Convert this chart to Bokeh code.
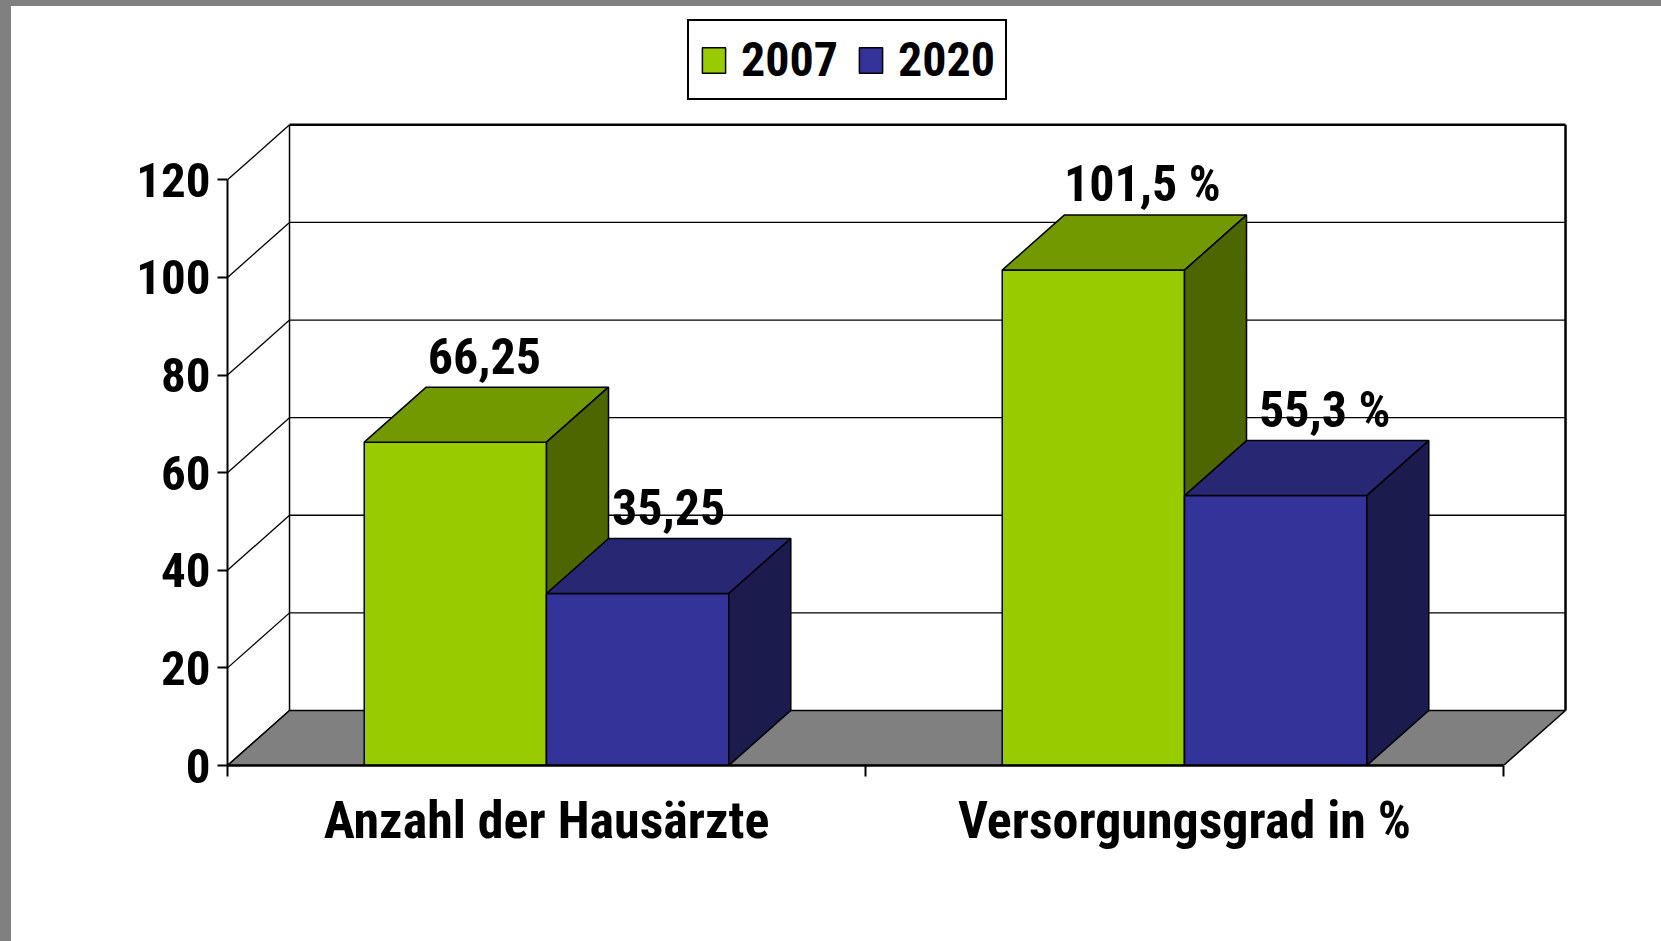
from bokeh.plotting import figure
from bokeh.models import (Range1d, FixedTicker, LinearAxis, Legend, LegendItem,
                          ColumnDataSource)
from bokeh.layouts import column
from bokeh.embed import file_html
from bokeh.resources import INLINE
from bokeh.core.properties import value

# ---------------- data ----------------
categories = ["Anzahl der Hausärzte", "Versorgungsgrad in %"]
series = ["2007", "2020"]
values_2007 = [66.25, 101.5]
values_2020 = [35.25, 55.3]
labels_2007 = ["66,25", "101,5 %"]
labels_2020 = ["35,25", "55,3 %"]
y_ticks = [0, 20, 40, 60, 80, 100, 120]

# ---------------- styles ----------------
FONT = "'Roboto Condensed', 'Liberation Sans'"
GREEN = ["#99CC00", "#739900", "#4D6600"]   # front, top, side
BLUE = ["#333399", "#272773", "#1B1B4D"]
FLOOR = "#808080"
BAR_W = 0.2857          # width of a bar in category units
DX = 0.0972             # depth offset (x, category units)
DY = 11.27              # depth offset (y, value units)
Y_MAX = 120
label_dx_2007 = [-2, 18]
label_dx_2020 = [0, 18]

W, H = 1650, 935
LEFT, BOTTOM = 216, 176
PX_X = 638.0
PX_Y = 4.8808

p = figure(width=W, height=H, output_backend="svg", toolbar_location=None,
           x_range=Range1d(0, (W - LEFT) / PX_X), y_range=Range1d(0, (H - BOTTOM) / PX_Y),
           min_border_left=LEFT, min_border_right=0, min_border_top=0,
           min_border_bottom=BOTTOM, x_axis_location=None, y_axis_location=None,
           background_fill_color="white", border_fill_color="white")
p.outline_line_color = None
p.grid.visible = False
p.margin = (6, 0, 0, 11)
p.styles = {"background-color": "white"}

n = len(categories)
centers = [i + 0.5 for i in range(n)]

# ---------------- walls ----------------
p.segment(x0=[0] * len(y_ticks), y0=y_ticks, x1=[DX] * len(y_ticks),
          y1=[t + DY for t in y_ticks], line_color="black", line_width=1.3)
inner = [t for t in y_ticks if 0 < t < Y_MAX]
p.segment(x0=[DX] * len(inner), y0=[t + DY for t in inner], x1=[n + DX] * len(inner),
          y1=[t + DY for t in inner], line_color="black", line_width=1.3)
p.segment(x0=[DX, n + DX], y0=[DY, DY], x1=[DX, n + DX], y1=[Y_MAX + DY, Y_MAX + DY],
          line_color="black", line_width=[1.5, 2.5])
p.segment(x0=[DX], y0=[Y_MAX + DY], x1=[n + DX], y1=[Y_MAX + DY],
          line_color="black", line_width=2.5)
p.patch(x=[0, n, n + DX, DX], y=[0, 0, DY, DY], fill_color=FLOOR,
        line_color="black", line_width=1.5)

# ---------------- bars ----------------
def draw_bars(lefts, vals, cols):
    rights = [l + BAR_W for l in lefts]
    front = p.quad(left=lefts, right=rights, bottom=[0] * len(vals), top=vals,
                   fill_color=cols[0], line_color="black", line_width=1.5)
    p.patches(xs=[[l, r, r + DX, l + DX] for l, r in zip(lefts, rights)],
              ys=[[v, v, v + DY, v + DY] for v in vals],
              fill_color=cols[1], line_color="black", line_width=1.5)
    p.patches(xs=[[r, r + DX, r + DX, r] for r in rights],
              ys=[[0, DY, v + DY, v] for v in vals],
              fill_color=cols[2], line_color="black", line_width=1.5)
    return front

r07 = draw_bars([c - BAR_W for c in centers], values_2007, GREEN)
r20 = draw_bars(centers, values_2020, BLUE)

# ---------------- value labels ----------------
def draw_labels(xc, vals, texts, dxs):
    src = ColumnDataSource(dict(x=[x + DX / 2 for x in xc], y=[v + DY for v in vals],
                                t=texts, dx=dxs))
    p.text(x="x", y="y", text="t", x_offset="dx", y_offset=-31, source=src,
           text_font=value(FONT), text_font_style="bold", text_font_size="50px",
           text_align="center", text_baseline="alphabetic", text_color="black")

draw_labels([c - BAR_W / 2 for c in centers], values_2007, labels_2007, label_dx_2007)
draw_labels([c + BAR_W / 2 for c in centers], values_2020, labels_2020, label_dx_2020)

# ---------------- axes ----------------
yax = LinearAxis(ticker=FixedTicker(ticks=y_ticks, minor_ticks=[]), bounds=(0, Y_MAX))
yax.axis_line_width = 2
yax.major_tick_out = 10
yax.major_tick_in = 0
yax.major_tick_line_width = 2
yax.minor_tick_out = 0
yax.minor_tick_in = 0
yax.major_label_standoff = 7
yax.major_label_text_font = FONT
yax.major_label_text_font_style = "bold"
yax.major_label_text_font_size = "49px"
yax.major_label_text_color = "black"
p.add_layout(yax, "left")

xax = LinearAxis(ticker=FixedTicker(ticks=centers, minor_ticks=list(range(n + 1))),
                 bounds=(0, n))
xax.axis_line_width = 2.5
xax.major_tick_out = 0
xax.major_tick_in = 0
xax.minor_tick_out = 11
xax.minor_tick_in = 0
xax.minor_tick_line_width = 2
xax.major_label_overrides = {c: lab for c, lab in zip(centers, categories)}
xax.major_label_standoff = 13
xax.major_label_text_font = FONT
xax.major_label_text_font_style = "bold"
xax.major_label_text_font_size = "52px"
xax.major_label_text_color = "black"
p.add_layout(xax, "below")

# ---------------- legend ----------------
legend = Legend(items=[LegendItem(label=series[0], renderers=[r07]),
                       LegendItem(label=series[1], renderers=[r20])],
                location=(460, 665), orientation="horizontal")
legend.label_text_font = FONT
legend.label_text_font_style = "bold"
legend.label_text_font_size = "48px"
legend.label_text_color = "black"
legend.glyph_width = 29
legend.glyph_height = 32
legend.label_standoff = 13
legend.spacing = 18
legend.padding = 10
legend.margin = 0
legend.border_line_color = "black"
legend.border_line_alpha = 1
legend.border_line_width = 2
legend.background_fill_color = "white"
legend.background_fill_alpha = 1
p.add_layout(legend, "center")

root = column(p, styles={"background-color": "#808080"})
open("out.html", "w").write(file_html(root, INLINE))
